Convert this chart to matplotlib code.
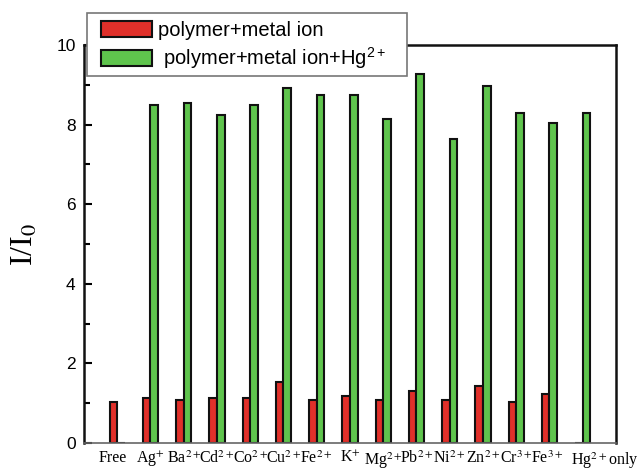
import matplotlib
matplotlib.use("Agg")
import matplotlib.pyplot as plt
import matplotlib.transforms as mtransforms
from matplotlib.patches import Rectangle
import numpy as np

categories = ["Free", r"Ag$^{+}$", r"Ba$^{2+}$", r"Cd$^{2+}$", r"Co$^{2+}$", r"Cu$^{2+}$",
              r"Fe$^{2+}$", r"K$^{+}$", r"Mg$^{2+}$", r"Pb$^{2+}$", r"Ni$^{2+}$", r"Zn$^{2+}$",
              r"Cr$^{3+}$", r"Fe$^{3+}$", r"Hg$^{2+}$only"]
metal_ion = [1.02, 1.12, 1.08, 1.14, 1.12, 1.53, 1.09, 1.19, 1.08, 1.30, 1.09, 1.42, 1.04, 1.22, 0]
metal_ion_hg = [0, 8.48, 8.55, 8.25, 8.50, 8.91, 8.73, 8.75, 8.13, 9.26, 7.63, 8.97, 8.30, 8.05, 8.30]
yticks = [0, 2, 4, 6, 8, 10]

plt.rcParams['mathtext.fontset'] = 'stix'

W, H = 643, 473
fig = plt.figure(figsize=(6.43, 4.73), dpi=100)
ax = fig.add_axes([0.1306, 0.0634, 0.8274, 0.8416])

x = np.arange(len(categories))
w = 0.23
red = "#e0302a"
green = "#5fc44d"
ax.bar(x - w/2, metal_ion, width=w, color=red, edgecolor="#111111", linewidth=1.5,
       label="polymer+metal ion")
ax.bar(x + w/2, metal_ion_hg, width=w, color=green, edgecolor="#111111", linewidth=1.5,
       label=r" polymer+metal ion+Hg$\mathregular{^{2+}}$")

ax.set_xlim(-1, 15)
ax.set_ylim(0, 10)
ax.set_yticks(yticks)
ax.set_yticks([1, 3, 5, 7, 9], minor=True)
ax.set_yticklabels([str(v) for v in yticks], family="Liberation Sans", fontsize=12.5)
ax.tick_params(axis='y', which='major', direction='in', length=6, width=1.5, pad=6)
ax.tick_params(axis='y', which='minor', direction='in', length=4, width=1.5)
ax.set_xticks(x)
ax.set_xticklabels(categories, family="Liberation Serif", fontsize=11.5)
ax.tick_params(axis='x', length=0, pad=5)

# shift a few labels horizontally like the reference
shifts = {0: -5, 14: 22, 13: -2}
for i, lbl in enumerate(ax.get_xticklabels()):
    if i in shifts:
        off = mtransforms.ScaledTranslation(shifts[i] / 100.0, 0, fig.dpi_scale_trans)
        lbl.set_transform(lbl.get_transform() + off)

for s in ['left', 'top', 'right']:
    ax.spines[s].set_linewidth(1.8)
    ax.spines[s].set_color("#111111")
ax.spines['bottom'].set_linewidth(1.2)
ax.spines['bottom'].set_color("#666666")

ax.set_ylabel(r"I/I$_0$", family="Liberation Serif", fontsize=23, labelpad=12)

# legend frame drawn as a box, legend entries placed inside it
frame = Rectangle((87 / W, 1 - 76 / H), 320 / W, 63 / H, transform=fig.transFigure,
                  facecolor="white", edgecolor="#777777", linewidth=1.2, zorder=4)
fig.patches.append(frame)
leg = fig.legend(loc="upper left", bbox_to_anchor=(101 / W, 1 - 21 / H), borderaxespad=0,
                 prop={"family": "Liberation Sans", "size": 14.5},
                 handlelength=2.55, handleheight=0.85, handletextpad=0.3,
                 labelspacing=0.25, frameon=False, borderpad=0)
leg.set_zorder(5)

fig.savefig("out.png", dpi=100)
